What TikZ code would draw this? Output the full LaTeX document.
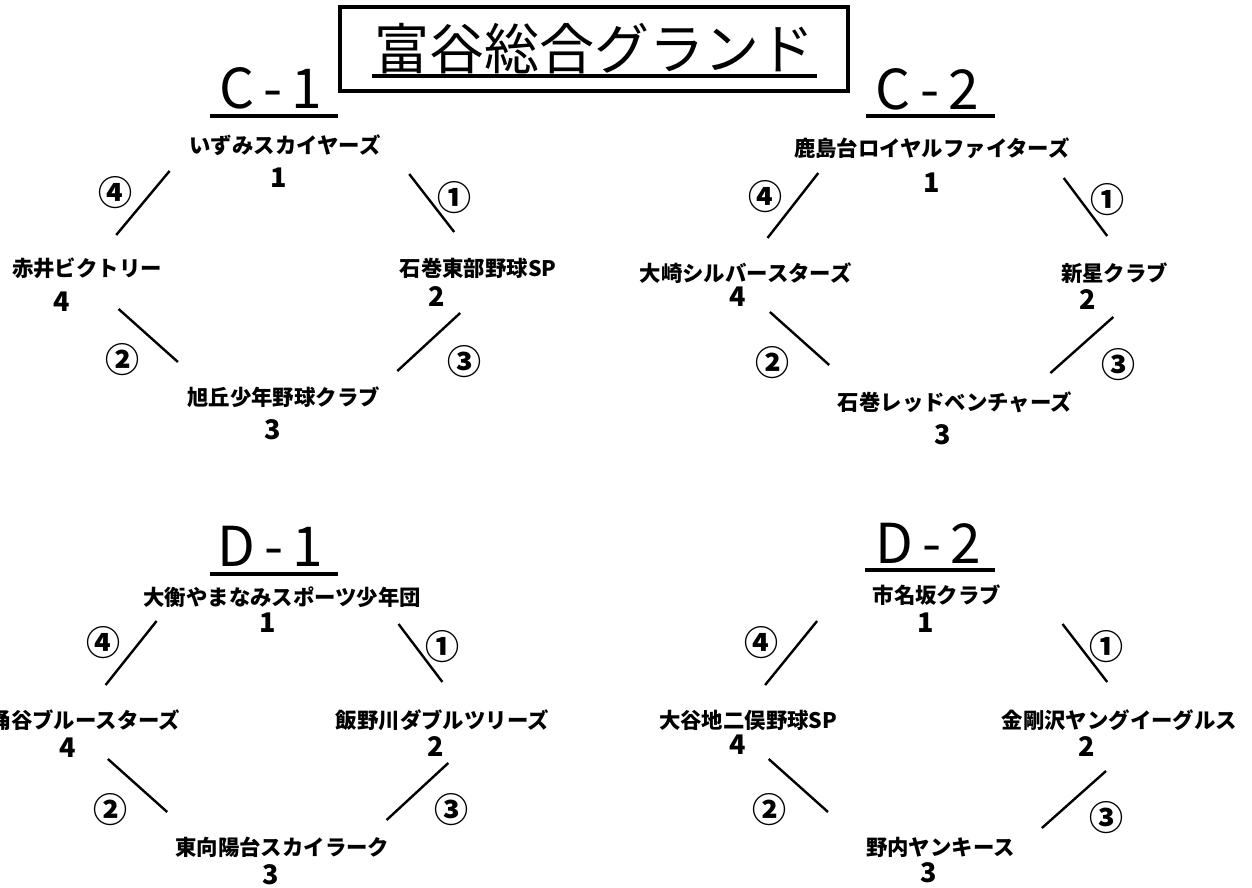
\documentclass[tikz,border=0pt]{standalone}
\usepackage{fontspec}
\setmainfont{Noto Sans CJK JP}

\begin{document}
\begin{tikzpicture}[x=0.5pt,y=-0.5pt,
	team/.style={font=\bfseries\fontsize{10.7}{10.7}\selectfont, inner sep=0pt},
	seed/.style={font=\bfseries\fontsize{13.5}{13.5}\selectfont, inner sep=0pt},
	game/.style={font=\bfseries\fontsize{17}{17}\selectfont, inner sep=0pt},
	grp/.style={font=\fontsize{27.5}{27.5}\selectfont, inner sep=0pt},
	bar/.style={line width=1.2pt},
	uline/.style={line width=1.6pt},
]
	\path[fill=white] (0,0) rectangle (1252,888);
	\useasboundingbox (0,0) rectangle (1252,888);

	% title
	\node[draw, line width=1.6pt, minimum width=254pt, minimum height=42pt,
		font=\fontsize{27.5}{27.5}\selectfont] (title) at (594,49) {富谷総合グランド};
	\draw[uline] (372,76) -- (817,76);

	% group headings
	\foreach \nm/\x/\y/\txt/\ul/\ur/\uy in {
		c1/271/88/C\,-\,1/209.6/338/116,
		c2/927.5/89.5/C\,-\,2/866/995/116,
		d1/270.4/546/D\,-\,1/210/338/574,
		d2/928.3/543/D\,-\,2/865.4/994.8/570%
	}{
		\node[grp] (\nm) at (\x,\y) {\txt};
		\draw[uline] (\ul,\uy) -- (\ur,\uy);
	}

	% teams and seeds
	\foreach \nm/\x/\y/\txt/\sx/\sy/\s in {
		c1t/285/145/いずみスカイヤーズ/279/178/1,
		c1r/478/268/石巻東部野球SP/437/297/2,
		c1b/283.5/397/旭丘少年野球クラブ/272.8/430/3,
		c1l/87/268/赤井ビクトリー/62/302/4,
		c2t/931.9/148/鹿島台ロイヤルファイターズ/931.9/183/1,
		c2r/1114.5/273/新星クラブ/1087.9/300/2,
		c2b/954.9/402/石巻レッドベンチャーズ/942.8/435/3,
		c2l/745.7/273/大崎シルバースターズ/737.3/297/4,
		d1t/282.3/597/大衡やまなみスポーツ少年団/268/623/1,
		d1r/442.4/720/飯野川ダブルツリーズ/435.3/747/2,
		d1b/282.3/847/東向陽台スカイラーク/270.4/875/3,
		d1l/85/720/涌谷ブルースターズ/67.6/748/4,
		d2t/936.8/595/市名坂クラブ/925.9/623/1,
		d2r/1119.3/720/金剛沢ヤングイーグルス/1086.7/747/2,
		d2b/940.4/847/野内ヤンキース/928.3/873/3,
		d2l/748.2/720/大谷地二俣野球SP/737.3/745/4%
	}{
		\node[team] (\nm) at (\x,\y) {\txt};
		\node[seed] (\nm-s) at (\sx,\sy) {\s};
	}

	% games
	\foreach \nm/\ax/\ay/\bx/\by/\lx/\ly/\lab in {
		c1g1/409.2/174/454.2/232/454.2/198/①,
		c1g2/118.6/309/177.9/362/122.2/360/②,
		c1g3/460.2/313/397.3/371/464.9/362/③,
		c1g4/169.6/171/116.2/235/115/193/④,
		c2g1/1063.7/178/1107.2/236/1107.2/200/①,
		c2g2/769.9/312/829.2/365/772.3/363/②,
		c2g3/1113.3/317/1050.4/373/1118.1/365/③,
		c2g4/818.3/173/767.5/238/765.1/197/④,
		d1g1/398.5/624/442.4/682/442.4/647/①,
		d1g2/107.9/759/167.2/812/110.3/810/②,
		d1g3/448.3/763/386.6/820/451.9/810/③,
		d1g4/156.6/621/105.6/685/103.2/643/④,
		d2g1/1062.5/624/1107.2/682/1106/647/①,
		d2g2/768.7/759/828/812/769.9/810/②,
		d2g3/1106/771/1041.9/828/1106/818/③,
		d2g4/817.1/621/765.1/685/761.5/643/④%
	}{
		\coordinate (\nm a) at (\ax,\ay);
		\coordinate (\nm b) at (\bx,\by);
		\draw[bar] (\nm a) -- (\nm b);
		\node[game] (\nm) at (\lx,\ly) {\lab};
	}
\end{tikzpicture}
\end{document}
